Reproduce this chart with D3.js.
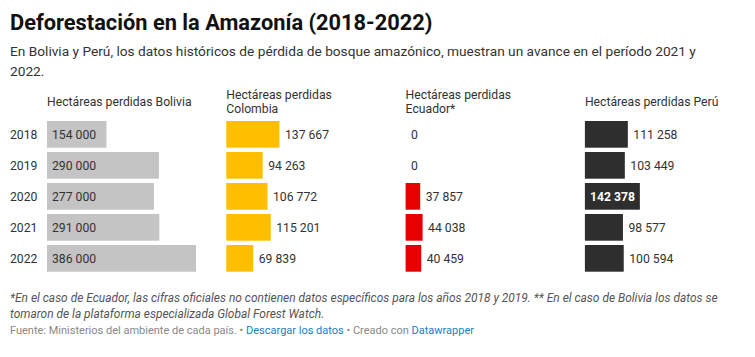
<!DOCTYPE html>
<html><head><meta charset="utf-8">
<script src="https://cdn.jsdelivr.net/npm/d3@7"></script>
<style>
body{margin:0;background:#fff;}
svg{display:block;font-family:Roboto,"Noto Sans",sans-serif;}
</style></head>
<body><svg id="c" width="755" height="357"></svg>
<script>
const title = "Deforestación en la Amazonía (2018-2022)";
const subtitleLines = ["En Bolivia y Perú, los datos históricos de pérdida de bosque amazónico, muestran un avance en el período 2021 y", "2022."];
const years = ["2018","2019","2020","2021","2022"];
const countries = ["Bolivia","Colombia","Ecuador","Perú"];
const headers = ["Hectáreas perdidas Bolivia","Hectáreas perdidas Colombia","Hectáreas perdidas Ecuador*","Hectáreas perdidas Perú"];
const bolivia = [154000, 290000, 277000, 291000, 386000];
const colombia = [137667, 94263, 106772, 115201, 69839];
const ecuador = [0, 0, 37857, 44038, 40459];
const peru = [111258, 103449, 142378, 98577, 100594];
const colors = ["#c4c4c4","#ffbf00","#e60000","#2e2e2e"];
const notes = ["*En el caso de Ecuador, las cifras oficiales no contienen datos específicos para los años 2018 y 2019. ** En el caso de Bolivia los datos se","tomaron de la plataforma especializada Global Forest Watch."];
const source = "Fuente: Ministerios del ambiente de cada país.";
const links = ["Descargar los datos","Datawrapper"];

const series = [bolivia, colombia, ecuador, peru];
const svg = d3.select("#c");
const loc = d3.formatLocale({decimal:",", thousands:"\u2009", grouping:[3], currency:["",""]});
const fmt = v => loc.format(",d")(v).replace(/\u2009/g," ");
const FS = 12.2;

svg.append("text").attr("x",10).attr("y",30).attr("font-size",21.8).attr("font-weight",700).attr("fill","#111").text(title);
svg.append("g").selectAll("text").data(subtitleLines).join("text")
  .attr("x",10).attr("y",(d,i)=>56+i*19.5).attr("font-size",13.7).attr("fill","#333").text(d=>d);

const col = d3.scaleBand().domain(countries).range([47, 47+4*179.3]).padding(0);
const row = d3.scaleBand().domain(years).range([121, 121+4*31+26.7]).paddingInner(4.3/31);
const allMax = d3.max(series.flat());
const x = d3.scaleLinear().domain([0, allMax]).range([0, 149]);

// year labels
svg.append("g").selectAll("text").data(years).join("text")
  .attr("x",10).attr("y",d=>row(d)+row.bandwidth()/2).attr("dy","0.35em")
  .attr("font-size",FS).attr("fill","#333").text(d=>d);

countries.forEach((c,ci)=>{
  const g = svg.append("g");
  const words = headers[ci].split(" ");
  const lines = []; let cur = [];
  const tmp = g.append("text").attr("font-size",FS);
  words.forEach(w=>{
    const t = cur.concat([w]).join(" ");
    tmp.text(t);
    if (tmp.node().getComputedTextLength() > 149 && cur.length){ lines.push(cur.join(" ")); cur=[w]; }
    else cur.push(w);
  });
  lines.push(cur.join(" "));
  tmp.remove();
  const lh = 14, center = 102;
  g.append("g").selectAll("text").data(lines).join("text")
    .attr("x",col(c)).attr("y",(d,i)=>center - (lines.length-1)*lh/2 + i*lh).attr("dy","0.35em")
    .attr("font-size",FS).attr("fill","#333").text(d=>d);

  const data = years.map((y,i)=>({y, v:series[ci][i]}));
  g.append("g").selectAll("rect").data(data).join("rect")
    .attr("x",col(c)).attr("y",d=>row(d.y)).attr("width",d=>x(d.v)).attr("height",row.bandwidth())
    .attr("fill",colors[ci]);
  const lum = d3.lab(colors[ci]).l;
  g.append("g").selectAll("text").data(data).join("text")
    .each(function(d){
      const inside = x(d.v) > 54;
      d3.select(this)
        .attr("x", inside ? col(c)+5 : col(c)+x(d.v)+5.5)
        .attr("y", row(d.y)+row.bandwidth()/2).attr("dy","0.35em")
        .attr("font-size",FS)
        .attr("font-weight", inside && lum<50 ? 700 : 400)
        .attr("fill", inside ? (lum<50 ? "#fff" : "#333") : "#333")
        .text(fmt(d.v));
    });
});

svg.append("g").selectAll("text").data(notes).join("text")
  .attr("x",10).attr("y",(d,i)=>302+i*15.5).attr("font-size",11.95).attr("font-style","italic").attr("fill","#555").text(d=>d);

const src = svg.append("text").attr("x",10).attr("y",334).attr("font-size",11).attr("fill","#888");
src.append("tspan").text(source+" • ");
src.append("tspan").attr("fill","#1a80c4").text(links[0]);
src.append("tspan").text(" • Creado con ");
src.append("tspan").attr("fill","#1a80c4").text(links[1]);
</script></body></html>
